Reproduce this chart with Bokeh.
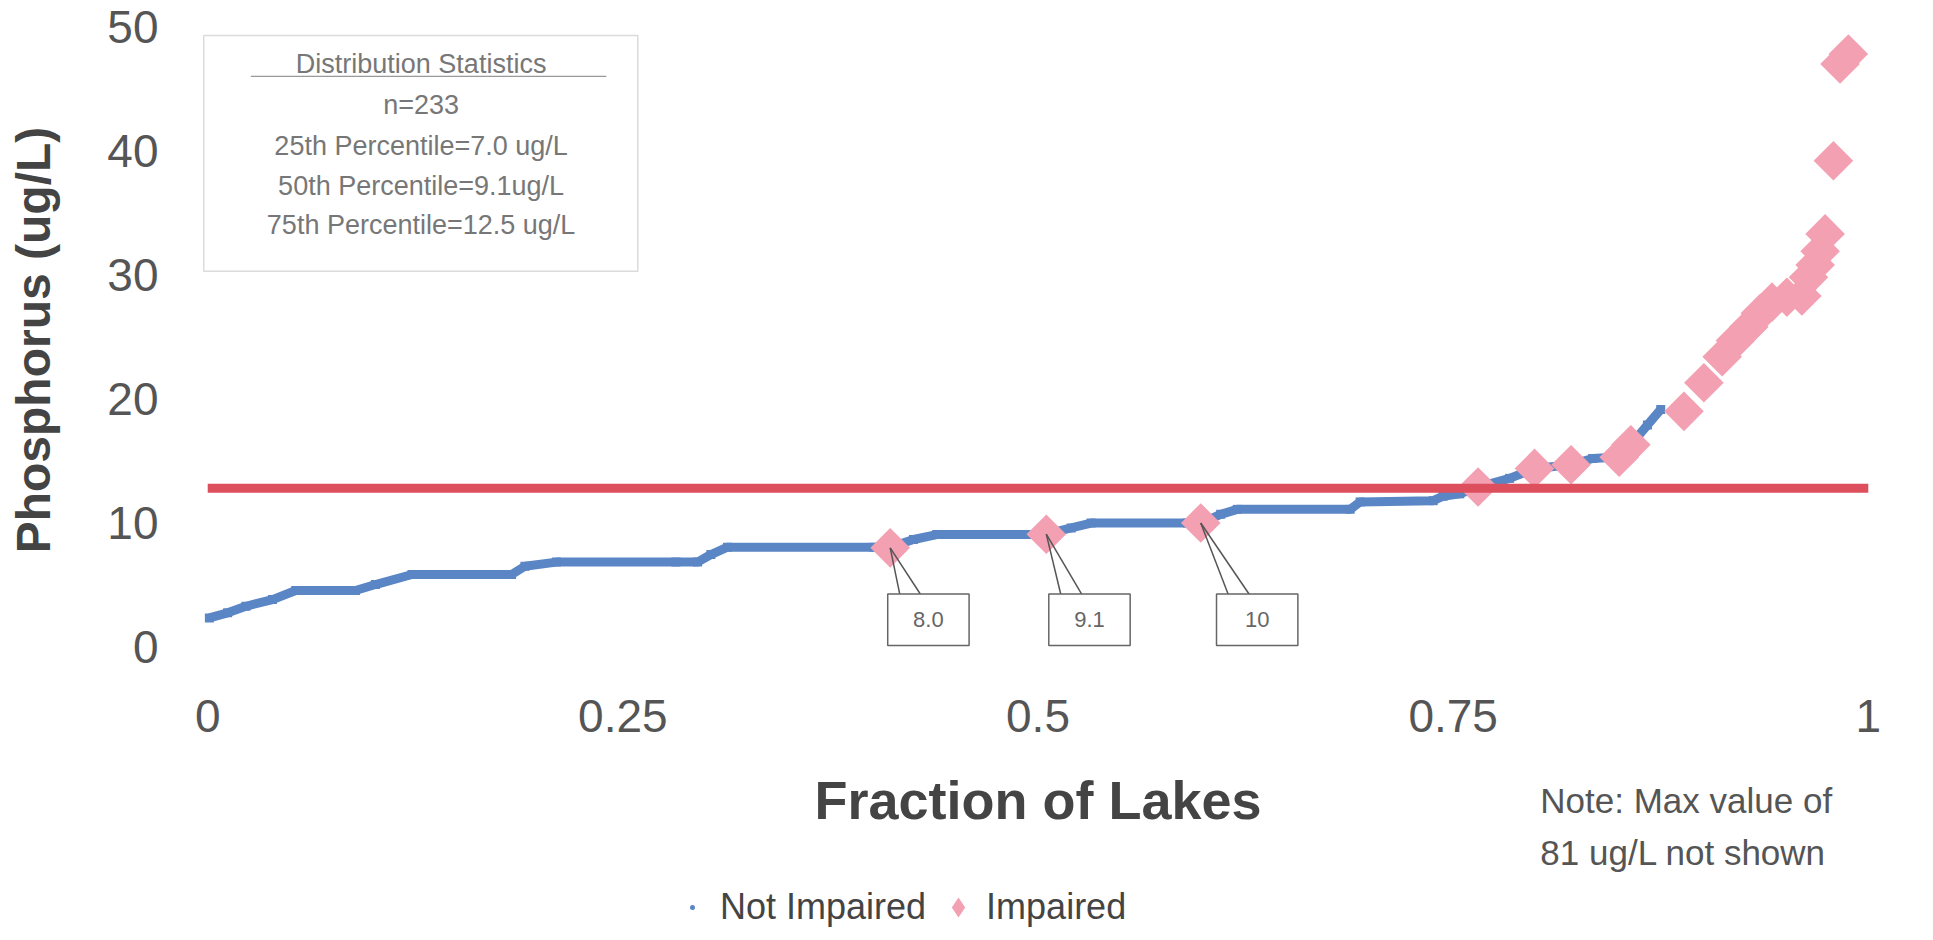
import math
from bokeh.plotting import figure
from bokeh.layouts import column
from bokeh.models import (FixedTicker, Label, BoxAnnotation, Legend, LegendItem, Range1d)
from bokeh.embed import file_html
from bokeh.resources import INLINE
from bokeh.core.properties import value

# ---------------- data ----------------
not_impaired_frac = [0.001, 0.012, 0.023, 0.039, 0.053, 0.089, 0.101, 0.123, 0.183, 0.191,
                     0.210, 0.282, 0.295, 0.303, 0.313, 0.401, 0.411, 0.425, 0.439, 0.493,
                     0.505, 0.520, 0.532, 0.590, 0.598, 0.610, 0.620, 0.688, 0.694, 0.738,
                     0.744, 0.754, 0.765, 0.784, 0.799, 0.821, 0.834, 0.847, 0.857, 0.867,
                     0.875]
not_impaired_phos = [2.35, 2.76, 3.29, 3.83, 4.56, 4.56, 5.04, 5.85, 5.85, 6.52,
                     6.85, 6.85, 6.85, 7.46, 8.05, 8.05, 8.05, 8.67, 9.07, 9.07,
                     9.1, 9.6, 10.0, 10.0, 10.0, 10.7, 11.1, 11.1, 11.7, 11.8,
                     12.16, 12.35, 12.9, 13.6, 14.4, 14.7, 15.2, 15.3, 16.3, 17.9,
                     19.15]

impaired_frac = [0.411, 0.505, 0.598, 0.765, 0.799, 0.821, 0.850, 0.857, 0.889, 0.901,
                 0.912, 0.920, 0.928, 0.935, 0.942, 0.951, 0.960, 0.964, 0.968, 0.971,
                 0.974, 0.979, 0.983, 0.988]
impaired_phos = [8.0, 9.1, 10.0, 12.9, 14.4, 14.7, 15.3, 16.3, 19.0, 21.3,
                 23.4, 24.7, 25.8, 26.9, 27.8, 28.2, 28.3, 29.8, 30.8, 31.9,
                 33.3, 39.2, 47.0, 47.8]

callout_labels = ["8.0", "9.1", "10"]
threshold = 12.8

x_ticks = [0, 0.25, 0.5, 0.75, 1]
x_tick_labels = ["0", "0.25", "0.5", "0.75", "1"]
y_ticks = [0, 10, 20, 30, 40, 50]

stats_lines = ["Distribution Statistics", "n=233", "25th Percentile=7.0 ug/L",
               "50th Percentile=9.1ug/L", "75th Percentile=12.5 ug/L"]
note_lines = ["Note: Max value of", "81 ug/L not shown"]
legend_labels = ["Not Impaired", "Impaired"]
x_title = "Fraction of Lakes"
y_title = "Phosphorus (ug/L)"

# ---------------- styles ----------------
BLUE = "#5b86c5"
PINK = "#f2a0b2"
RED = "#dd4f5c"
FONT = "Liberation Sans"
W = 1917
H1 = 755
H2 = 177

xr = Range1d(-0.02, 1.02)

p = figure(width=W, height=H1,
           x_range=xr, y_range=Range1d(-1, 50.5),
           output_backend="svg", toolbar_location=None,
           min_border_left=174, min_border_right=16,
           min_border_top=20, min_border_bottom=96)

p.outline_line_color = None
p.xgrid.visible = False
p.ygrid.visible = False

for ax in (p.xaxis[0], p.yaxis[0]):
    ax.axis_line_color = None
    ax.major_tick_line_color = None
    ax.minor_tick_line_color = None
    ax.major_label_text_font = FONT
    ax.major_label_text_color = "#555555"
    ax.axis_label_text_font = FONT
    ax.axis_label_text_font_style = "bold"
    ax.axis_label_text_color = "#444444"

p.xaxis.ticker = FixedTicker(ticks=x_ticks)
p.xaxis.major_label_overrides = {t: l for t, l in zip(x_ticks, x_tick_labels)}
p.xaxis.major_label_text_font_size = "46px"
p.xaxis.major_label_standoff = 34

p.yaxis.ticker = FixedTicker(ticks=y_ticks)
p.yaxis.major_label_text_font_size = "46px"
p.yaxis.major_label_standoff = 10
p.yaxis.axis_label = y_title
p.yaxis.axis_label_text_font_size = "48px"
p.yaxis.axis_label_standoff = 44

# not impaired curve
p.line(not_impaired_frac, not_impaired_phos, line_width=9, color=BLUE)
sq = p.scatter(not_impaired_frac, not_impaired_phos, marker="square", size=9,
               color=BLUE, line_color=None)

# impaired diamonds
dm = p.scatter(impaired_frac, impaired_phos, marker="square", angle=math.pi / 4,
               size=28, fill_color=PINK, line_color=None)

# reference line
p.segment(x0=x_ticks[0], x1=x_ticks[-1], y0=threshold, y1=threshold,
          line_width=9, color=RED)

# callouts
callout_dx = [0.023, 0.026, 0.034]
n_c = len(callout_labels)
box_x = [impaired_frac[i] + callout_dx[i] for i in range(n_c)]
wx, wy = [], []
for i in range(n_c):
    for off in (-0.017, -0.004):
        wx.append([impaired_frac[i], box_x[i] + off])
        wy.append([impaired_phos[i], 4.1])
p.multi_line(wx, wy, line_color="#555555", line_width=1.5)
p.rect(x=box_x, y=[2.2] * n_c, width=0.049, height=4.15,
       fill_color="white", line_color="#666666", line_width=1.5)
p.text(x=box_x, y=[2.2] * n_c, text=callout_labels, text_align="center",
       text_baseline="middle", text_font=value(FONT), text_font_size="22px",
       text_color="#666666")

# statistics box
p.add_layout(BoxAnnotation(left=-0.0024, right=0.259, top=49.3, bottom=30.3,
                           fill_alpha=0, line_color="#888888", line_width=1.5))
stat_y = [47.0, 43.7, 40.4, 37.2, 34.0]
for txt, yy in zip(stats_lines, stat_y):
    p.add_layout(Label(x=0.1285, y=yy, text=txt, text_align="center",
                       text_baseline="middle", text_font=FONT,
                       text_font_size="27px", text_color="#777777"))
p.segment(x0=0.026, x1=0.240, y0=46.0, y1=46.0, line_color="#999999", line_width=1.2)

# ---------------- lower strip: axis title, note, legend ----------------
q = figure(width=W, height=H2, x_range=xr, y_range=Range1d(H1 + H2, H1),
           output_backend="svg", toolbar_location=None,
           min_border_left=174, min_border_right=16, min_border_top=0, min_border_bottom=0)
q.axis.visible = False
q.xgrid.visible = False
q.ygrid.visible = False
q.outline_line_color = None

q.text(x=[0.5], y=[799], text=[x_title], text_align="center", text_baseline="middle",
       text_font=value(FONT), text_font_style="bold", text_font_size="54px",
       text_color="#444444")
q.text(x=[0.8025, 0.8025], y=[800, 852], text=note_lines, text_align="left",
       text_baseline="middle", text_font=value(FONT), text_font_size="35px",
       text_color="#555555")

# legend glyph carriers (kept outside the visible range)
lg_sq = q.scatter(x=[-0.5], y=[800], marker="dot", size=20, color=BLUE, line_color=BLUE)
lg_dm = q.scatter(x=[-0.5], y=[800], marker="diamond", size=20,
                  fill_color=PINK, line_color=None)
legend = Legend(items=[LegendItem(label=legend_labels[0], renderers=[lg_sq]),
                       LegendItem(label=legend_labels[1], renderers=[lg_dm])],
                location=(493, 0), orientation="horizontal",
                label_text_font=FONT, label_text_font_size="36px",
                label_text_color="#444444", glyph_width=50, glyph_height=50,
                label_standoff=3, spacing=7, padding=0, margin=0,
                border_line_color=None, background_fill_alpha=0)
q.add_layout(legend)

layout = column(p, q, spacing=0)
open("out.html", "w").write(file_html(layout, INLINE))
